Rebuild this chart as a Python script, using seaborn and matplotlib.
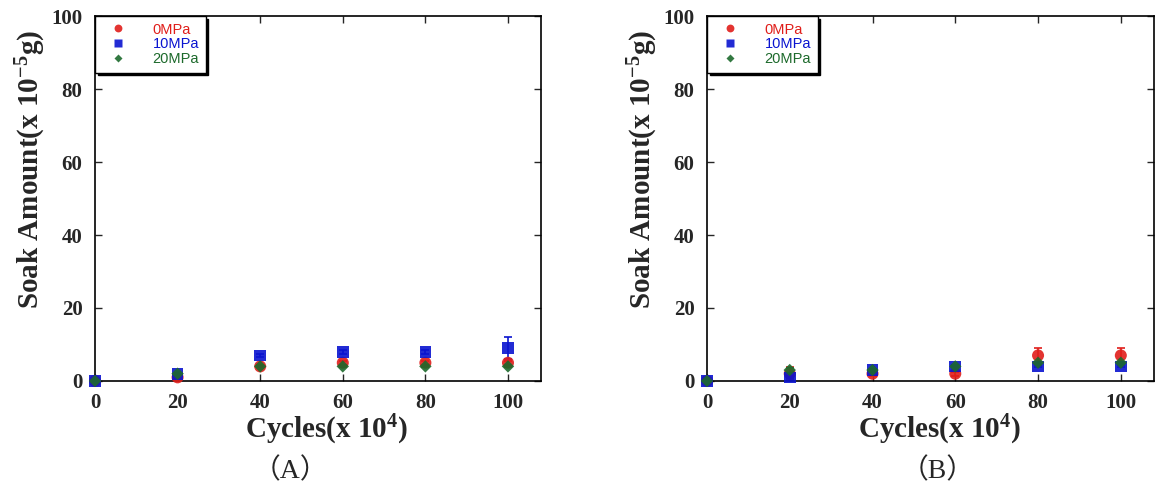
import numpy as np
import pandas as pd
import matplotlib
matplotlib.use("Agg")
import matplotlib.pyplot as plt
import seaborn as sns

# データ
cycles = [0, 20, 40, 60, 80, 100]
series = ["0MPa", "10MPa", "20MPa"]

a_0mpa = [0, 1, 4, 5, 5, 5]
a_10mpa = [0, 2, 7, 8, 8, 9]
a_20mpa = [0, 2, 4, 4, 4, 4]
a_err_0mpa = [0, 0.3, 0.3, 0.5, 0.5, 0.5]
a_err_10mpa = [0, 0.3, 0.5, 0.5, 0.5, 3]
a_err_20mpa = [0, 0.3, 0.3, 0.3, 0.3, 0.3]

b_0mpa = [0, 2, 2, 2, 7, 7]
b_10mpa = [0, 1, 3, 4, 4, 4]
b_20mpa = [0, 3, 3, 4, 5, 5]
b_err_0mpa = [0, 1.8, 0.5, 0.5, 2, 2]
b_err_10mpa = [0, 0.3, 0.3, 0.3, 0.3, 0.3]
b_err_20mpa = [0, 0.5, 0.3, 0.3, 0.3, 0.3]

panel_labels = ["\uff08A\uff09", "\uff08B\uff09"]

colors = {"0MPa": "#e01e1a", "10MPa": "#0a14d0", "20MPa": "#1d6a2c"}
markers = {"0MPa": "o", "10MPa": "s", "20MPa": "D"}
msizes = {"0MPa": 75, "10MPa": 70, "20MPa": 40}


def long_table(vals, errs):
    rows = []
    for name, v, e in zip(series, vals, errs):
        for c, y, err in zip(cycles, v, e):
            rows.append({"cycles": c, "amount": y, "err": err, "pressure": name})
    return pd.DataFrame(rows)


df_a = long_table([a_0mpa, a_10mpa, a_20mpa], [a_err_0mpa, a_err_10mpa, a_err_20mpa])
df_b = long_table([b_0mpa, b_10mpa, b_20mpa], [b_err_0mpa, b_err_10mpa, b_err_20mpa])

sns.set_style("ticks")
plt.rcParams["mathtext.fontset"] = "custom"
plt.rcParams["mathtext.rm"] = "Liberation Serif:bold"
plt.rcParams["mathtext.it"] = "Liberation Serif:bold"
plt.rcParams["mathtext.bf"] = "Liberation Serif:bold"

fig = plt.figure(figsize=(11.67, 4.93), dpi=100)
ax_a = fig.add_axes([0.0814, 0.2272, 0.3822, 0.7403])
ax_b = fig.add_axes([0.6058, 0.2272, 0.3830, 0.7403])

for ax, df, lab, lx in [(ax_a, df_a, panel_labels[0], 290 / 1167), (ax_b, df_b, panel_labels[1], 938 / 1167)]:
    # 誤差棒
    for name in series:
        sub = df[df["pressure"] == name]
        ax.errorbar(sub["cycles"], sub["amount"], yerr=sub["err"], fmt="none",
                    ecolor=colors[name], elinewidth=1.2, capsize=3, capthick=1.2, zorder=2)
    sns.scatterplot(data=df, x="cycles", y="amount", hue="pressure", style="pressure",
                    size="pressure", sizes=msizes,
                    palette=colors, markers=markers, edgecolor="none", alpha=0.9,
                    ax=ax, zorder=3, legend=True)

    ax.set_xlim(0, 108)
    ax.set_ylim(0, 100)
    ax.set_xticks([0, 20, 40, 60, 80, 100])
    ax.set_yticks([0, 20, 40, 60, 80, 100])
    ax.tick_params(direction="in", top=True, right=True, length=5, width=1, labelsize=15)
    ax.tick_params(axis="x", pad=9)
    ax.tick_params(axis="y", pad=9)
    for t in ax.get_xticklabels() + ax.get_yticklabels():
        t.set_fontfamily("Liberation Serif")
        t.set_fontweight("bold")
    for sp in ax.spines.values():
        sp.set_linewidth(1.2)
        sp.set_color("black")
    for c in ax.collections:
        c.set_clip_on(False)

    ax.set_xlabel("Cycles(x 10$^{4}$)", fontsize=21, fontfamily="Liberation Serif", fontweight="bold")
    ax.set_ylabel("Soak Amount(x 10$^{-5}$g)", fontsize=21, fontfamily="Liberation Serif", fontweight="bold")
    ax.xaxis.set_label_coords(0.52, -0.088)
    ax.yaxis.set_label_coords(-0.105, 0.58)

    # 凡例
    leg = ax.legend(loc="upper left", borderaxespad=0, frameon=True, fancybox=False,
                    framealpha=1, edgecolor="black", shadow={"color": "black", "alpha": 1},
                    prop={"family": "Liberation Sans", "size": 10.5}, markerscale=0.65,
                    handletextpad=1.3, borderpad=0.45, labelspacing=0.05, handlelength=2.2)
    leg.get_frame().set_linewidth(1)
    for txt in leg.get_texts():
        txt.set_color(colors[txt.get_text()])

    fig.text(lx, 0.045, lab, ha="center", va="center", fontsize=20,
             family=["Liberation Serif", "Noto Sans CJK KR"])

plt.savefig("out.png", dpi=100)
